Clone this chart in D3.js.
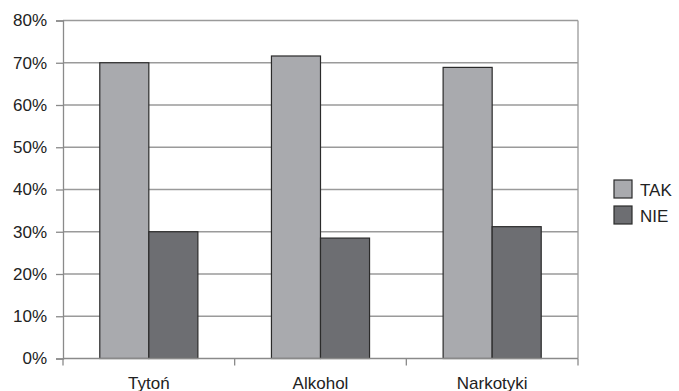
<!DOCTYPE html>
<html>
<head>
<meta charset="utf-8">
<script src="https://cdn.jsdelivr.net/npm/d3@7"></script>
<style>
  html, body { margin: 0; padding: 0; background: #fff; }
  svg { display: block; font-family: "Liberation Sans", Arial, sans-serif; }
</style>
</head>
<body>
<svg id="chart" width="679" height="391"></svg>
<script>
// Share of answers per substance
const categories = ["Tytoń", "Alkohol", "Narkotyki"];
const seriesNames = ["TAK", "NIE"];
const takValues = [70.0, 71.6, 68.9];
const nieValues = [30.0, 28.5, 31.2];
const yTicks = [0, 10, 20, 30, 40, 50, 60, 70, 80];
const seriesColors = ["#a9aaae", "#6d6e72"];

const series = [takValues, nieValues];

const svg = d3.select("#chart");
const margin = { left: 63, right: 101, top: 20.5, bottom: 32.5 };
const width = 679, height = 391;
const plotRight = width - margin.right;
const plotBottom = height - margin.bottom;

const x = d3.scaleBand()
  .domain(categories)
  .range([margin.left, plotRight])
  .paddingInner(0)
  .paddingOuter(0);

const xInner = d3.scaleBand()
  .domain(seriesNames)
  .range([0, x.bandwidth()])
  .paddingInner(0)
  .paddingOuter(0.75);

const y = d3.scaleLinear()
  .domain([0, 80])
  .range([plotBottom, margin.top]);

// Horizontal gridlines
svg.append("g")
  .selectAll("line")
  .data(yTicks.filter(d => d > 0))
  .join("line")
  .attr("x1", margin.left)
  .attr("x2", plotRight)
  .attr("y1", d => y(d))
  .attr("y2", d => y(d))
  .attr("stroke", "#9a9a9a")
  .attr("stroke-width", 1.3);

// Right border of the plot area
svg.append("line")
  .attr("x1", plotRight).attr("x2", plotRight)
  .attr("y1", y(80)).attr("y2", plotBottom)
  .attr("stroke", "#9a9a9a")
  .attr("stroke-width", 1.3);

// Bars
const groups = svg.append("g")
  .selectAll("g")
  .data(categories)
  .join("g")
  .attr("transform", d => `translate(${x(d)},0)`);

groups.selectAll("rect")
  .data((c, i) => seriesNames.map((s, j) => ({ s, v: series[j][i], j })))
  .join("rect")
  .attr("x", d => xInner(d.s))
  .attr("width", xInner.bandwidth())
  .attr("y", d => y(d.v))
  .attr("height", d => plotBottom - y(d.v))
  .attr("fill", d => seriesColors[d.j])
  .attr("stroke", "#2b2b2b")
  .attr("stroke-width", 1.2);

// Y axis
const yAxis = d3.axisLeft(y)
  .tickValues(yTicks)
  .tickFormat(d => d + "%")
  .tickSize(7)
  .tickPadding(9);

const gy = svg.append("g")
  .attr("transform", `translate(${margin.left},0)`)
  .call(yAxis);
gy.select(".domain").attr("stroke", "#8a8a8a").attr("stroke-width", 1.3);
gy.selectAll(".tick line").attr("stroke", "#8a8a8a").attr("stroke-width", 1.3);
gy.selectAll(".tick text")
  .attr("font-size", 17)
  .attr("fill", "#222")
  .attr("font-family", "Liberation Sans, Arial, sans-serif");

// X axis with ticks at category boundaries
const gx = svg.append("g");
gx.append("line")
  .attr("x1", margin.left).attr("x2", plotRight)
  .attr("y1", plotBottom).attr("y2", plotBottom)
  .attr("stroke", "#8a8a8a").attr("stroke-width", 1.3);

const boundaries = categories.map(c => x(c)).concat([x(categories[categories.length - 1]) + x.bandwidth()]);
gx.selectAll("line.tick")
  .data(boundaries)
  .join("line")
  .attr("class", "tick")
  .attr("x1", d => d).attr("x2", d => d)
  .attr("y1", plotBottom).attr("y2", plotBottom + 7)
  .attr("stroke", "#8a8a8a").attr("stroke-width", 1.3);

gx.selectAll("text")
  .data(categories)
  .join("text")
  .attr("x", d => x(d) + x.bandwidth() / 2)
  .attr("y", plotBottom + 30)
  .attr("text-anchor", "middle")
  .attr("font-size", 17)
  .attr("fill", "#222")
  .text(d => d);

// Legend
const legend = svg.append("g")
  .attr("transform", "translate(614,180)");
const items = legend.selectAll("g")
  .data(seriesNames)
  .join("g")
  .attr("transform", (d, i) => `translate(0,${i * 26})`);
items.append("rect")
  .attr("width", 18)
  .attr("height", 18)
  .attr("fill", (d, i) => seriesColors[i])
  .attr("stroke", "#2b2b2b")
  .attr("stroke-width", 1.2);
items.append("text")
  .attr("x", 26)
  .attr("y", 15.5)
  .attr("font-size", 17)
  .attr("fill", "#222")
  .text(d => d);
</script>
</body>
</html>
